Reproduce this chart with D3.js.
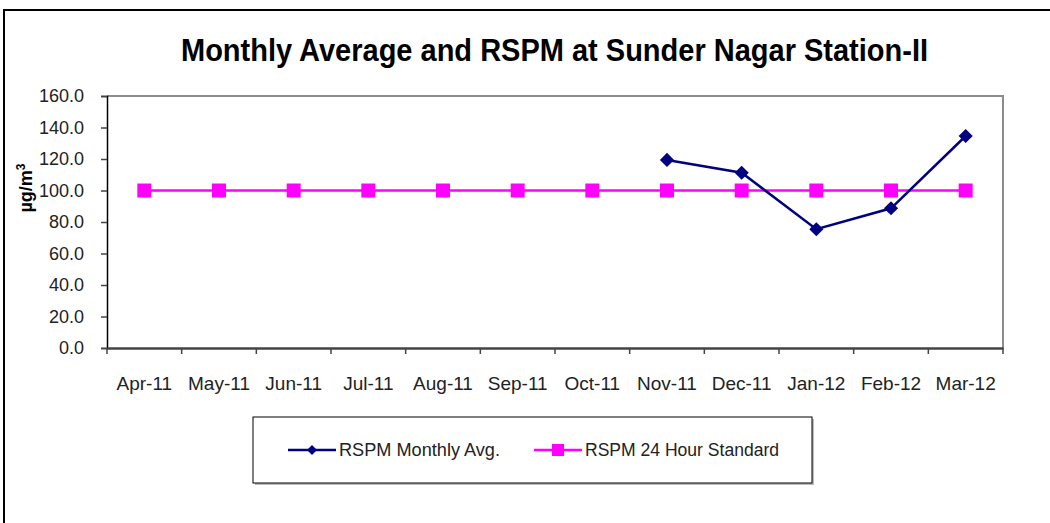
<!DOCTYPE html>
<html>
<head>
<meta charset="utf-8">
<script src="https://cdn.jsdelivr.net/npm/d3@7"></script>
<style>
  body { margin: 0; background: #fff; }
  svg { display: block; font-family: 'Liberation Sans', Arial, sans-serif; }
</style>
</head>
<body>
<svg id="chart" width="1050" height="523"></svg>
<script>
// Chart data
const months = ['Apr-11', 'May-11', 'Jun-11', 'Jul-11', 'Aug-11', 'Sep-11',
  'Oct-11', 'Nov-11', 'Dec-11', 'Jan-12', 'Feb-12', 'Mar-12'];
const monthlyAvg = [null, null, null, null, null, null, null, 119.4, 111.3, 75.4, 88.7, 134.6];
const standard24h = [100, 100, 100, 100, 100, 100, 100, 100, 100, 100, 100, 100];
const yTicks = [0, 20, 40, 60, 80, 100, 120, 140, 160];
const seriesNames = ['RSPM Monthly Avg.', 'RSPM 24 Hour Standard'];

const svg = d3.select('#chart');

// outer frame of the chart (right/bottom edges fall outside the window)
svg.append('rect')
  .attr('x', 4).attr('y', 10)
  .attr('width', 1060).attr('height', 530)
  .attr('fill', '#fff')
  .attr('stroke', '#000')
  .attr('stroke-width', 2);

// Title (narrow face in the original, so squeeze it)
svg.append('text')
  .attr('x', 181).attr('y', 61)
  .attr('textLength', 747)
  .attr('lengthAdjust', 'spacingAndGlyphs')
  .style('font-size', '32px')
  .style('font-weight', 'bold')
  .text('Monthly Average and RSPM at Sunder Nagar Station-II');

const plot = { left: 107, right: 1003, top: 96, bottom: 348 };

const x = d3.scaleBand().domain(months).range([plot.left, plot.right]);
const y = d3.scaleLinear().domain([0, 160]).range([plot.bottom, plot.top]);

// plot area border (top + right in gray)
svg.append('path')
  .attr('d', `M${plot.left},${plot.top}H${plot.right}V${plot.bottom}`)
  .attr('fill', 'none')
  .attr('stroke', '#8c8c8c')
  .attr('stroke-width', 2);

// Y axis
const yAxis = svg.append('g')
  .attr('transform', `translate(${plot.left},0)`)
  .call(d3.axisLeft(y).tickValues(yTicks).tickSize(6).tickPadding(17)
    .tickFormat(d3.format('.1f')));
yAxis.select('.domain').attr('stroke', '#000').attr('stroke-width', 1.5);
yAxis.selectAll('.tick line').attr('stroke', '#444').attr('stroke-width', 1.5);
yAxis.selectAll('text')
  .style('font-size', '18px')
  .style('font-family', "'Liberation Sans', Arial, sans-serif")
  .attr('fill', '#222');

// X axis: ticks at category boundaries
const xAxis = svg.append('g')
  .attr('transform', `translate(0,${plot.bottom})`)
  .call(d3.axisBottom(x).tickSize(0).tickPadding(29));
xAxis.select('.domain').attr('stroke', '#444').attr('stroke-width', 2.5);
xAxis.selectAll('text')
  .style('font-size', '19px')
  .style('font-family', "'Liberation Sans', Arial, sans-serif")
  .attr('fill', '#222');
xAxis.selectAll('.boundary')
  .data(d3.range(months.length + 1))
  .join('line')
  .attr('class', 'boundary')
  .attr('x1', i => plot.left + i * x.step())
  .attr('x2', i => plot.left + i * x.step())
  .attr('y1', 0).attr('y2', 6)
  .attr('stroke', '#444').attr('stroke-width', 1.5);

// Y axis title
svg.append('text')
  .attr('transform', 'translate(32,188) rotate(-90)')
  .attr('text-anchor', 'middle')
  .style('font-size', '18px')
  .style('font-weight', 'bold')
  .html('µg/m<tspan dy="-7" font-size="12">3</tspan>');

const cx = m => x(m) + x.bandwidth() / 2;

// Standard line
const stdData = months.map((m, i) => ({ m, v: standard24h[i] }));
svg.append('path')
  .datum(stdData)
  .attr('fill', 'none')
  .attr('stroke', '#ff00ff')
  .attr('stroke-width', 2.5)
  .attr('d', d3.line().x(d => cx(d.m)).y(d => y(d.v)));
svg.selectAll('.sq')
  .data(stdData)
  .join('rect')
  .attr('class', 'sq')
  .attr('x', d => cx(d.m) - 7)
  .attr('y', d => y(d.v) - 7)
  .attr('width', 14).attr('height', 14)
  .attr('fill', '#ff00ff');

// Monthly average line
const avgData = months.map((m, i) => ({ m, v: monthlyAvg[i] })).filter(d => d.v != null);
svg.append('path')
  .datum(avgData)
  .attr('fill', 'none')
  .attr('stroke', '#000080')
  .attr('stroke-width', 2.5)
  .attr('d', d3.line().x(d => cx(d.m)).y(d => y(d.v)));
svg.selectAll('.dia')
  .data(avgData)
  .join('path')
  .attr('class', 'dia')
  .attr('transform', d => `translate(${cx(d.m)},${y(d.v)}) rotate(45)`)
  .attr('d', 'M-5,-5H5V5H-5Z')
  .attr('fill', '#000080');

// Legend
const legend = svg.append('g');
legend.append('rect')
  .attr('x', 255).attr('y', 419).attr('width', 559).attr('height', 66)
  .attr('fill', '#bbb');
legend.append('rect')
  .attr('x', 253).attr('y', 417).attr('width', 559).attr('height', 66)
  .attr('fill', '#fff').attr('stroke', '#000').attr('stroke-width', 1);

const legendItems = [
  { name: seriesNames[0], x: 288, color: '#000080', shape: 'diamond', len: 161 },
  { name: seriesNames[1], x: 534, color: '#ff00ff', shape: 'square', len: 194 }
];
legendItems.forEach(it => {
  const g = legend.append('g').attr('transform', `translate(${it.x},450)`);
  g.append('line').attr('x1', 0).attr('x2', 48)
    .attr('stroke', it.color).attr('stroke-width', 2.5);
  if (it.shape === 'diamond') {
    g.append('path').attr('d', 'M24,-5L29,0L24,5L19,0Z').attr('fill', it.color);
  } else {
    g.append('rect').attr('x', 18).attr('y', -6).attr('width', 12).attr('height', 12)
      .attr('fill', it.color);
  }
  g.append('text').attr('x', 51).attr('y', 6)
    .attr('textLength', it.len)
    .attr('lengthAdjust', 'spacingAndGlyphs')
    .style('font-size', '17.5px')
    .attr('fill', '#222')
    .text(it.name);
});
</script>
</body>
</html>
